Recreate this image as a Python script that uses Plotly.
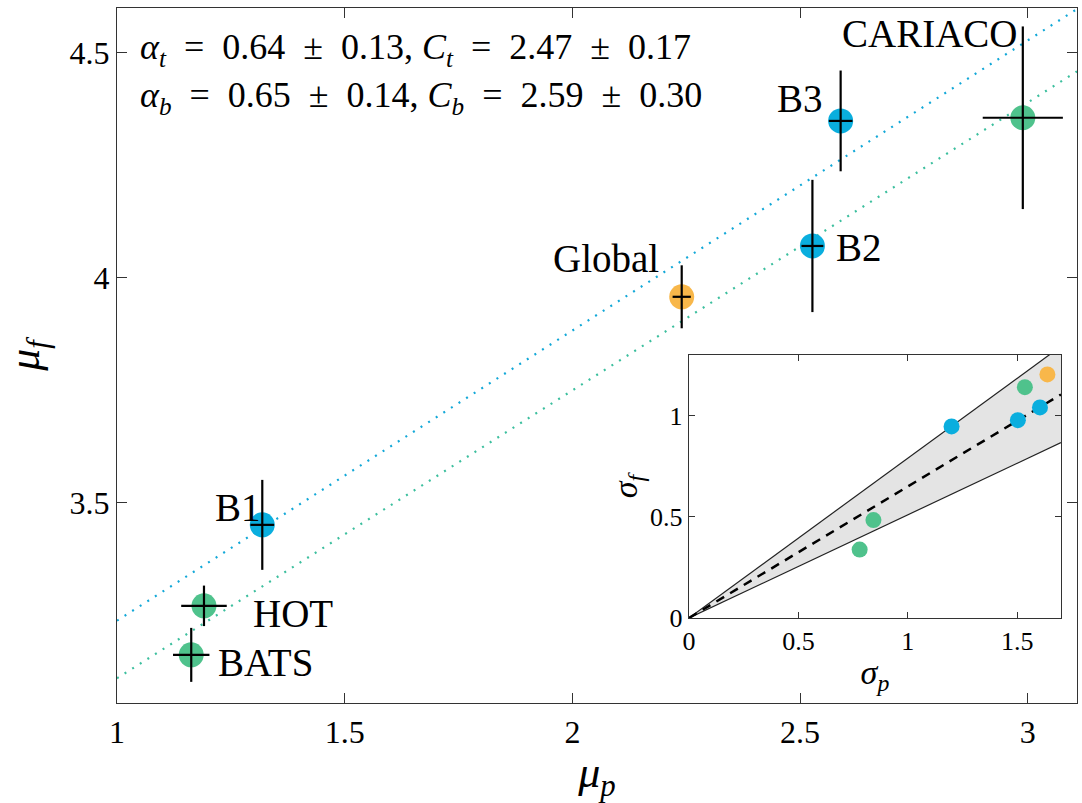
import plotly.graph_objects as go

# ---- main panel data ----
sites = ["B1", "HOT", "BATS", "Global", "B2", "B3", "CARIACO"]
mu_p = [1.319, 1.191, 1.163, 2.240, 2.527, 2.589, 2.989]
mu_f = [3.451, 3.271, 3.162, 3.958, 4.071, 4.349, 4.356]
err_p = [0.026, 0.05, 0.04, 0.02, 0.024, 0.026, 0.088]
err_f = [0.10, 0.045, 0.06, 0.07, 0.147, 0.112, 0.203]
groups = ["b", "g", "g", "o", "b", "b", "g"]

# fit lines (slope, intercept)
fit_slope = [0.645, 0.64]
fit_icept = [2.593, 2.47]

# ---- inset data ----
sig_p = [0.78, 0.843, 1.20, 1.503, 1.535, 1.604, 1.638]
sig_f = [0.338, 0.484, 0.947, 0.978, 1.141, 1.041, 1.204]
sig_groups = ["g", "g", "b", "b", "g", "b", "o"]
inset_slope = 0.65
inset_slope_err = 0.14

COL = {"b": "#0aaede", "g": "#4fc28c", "o": "#f8b74a"}
LINECOL = ["#12a8d8", "#3cbf9e"]
FONT = "Liberation Serif"

XR = [1.0, 3.108]
YR = [3.055, 4.6]

fig = go.Figure()

# dotted fit lines
for s, c, col in zip(fit_slope, fit_icept, LINECOL):
    xs = [XR[0], XR[1]]
    fig.add_trace(go.Scatter(x=xs, y=[s * v + c for v in xs], mode="lines",
                             line=dict(color=col, width=2.2, dash="2px,7px"),
                             hoverinfo="skip", showlegend=False))

# markers
fig.add_trace(go.Scatter(x=mu_p, y=mu_f, mode="markers",
                         marker=dict(size=25, color=[COL[g] for g in groups], line=dict(width=0)),
                         showlegend=False))
# error bars on top
fig.add_trace(go.Scatter(x=mu_p, y=mu_f, mode="markers",
                         marker=dict(size=1, color="rgba(0,0,0,0)"),
                         error_x=dict(type="data", array=err_p, color="black", thickness=2.2, width=0),
                         error_y=dict(type="data", array=err_f, color="black", thickness=2.2, width=0),
                         showlegend=False))

# inset band
x_end = 1.7
fig.add_trace(go.Scatter(x=[0, x_end, x_end, 0],
                         y=[0, x_end * (inset_slope + inset_slope_err), x_end * (inset_slope - inset_slope_err), 0],
                         fill="toself", fillcolor="#e4e4e4", mode="lines",
                         line=dict(color="rgba(0,0,0,0)", width=0),
                         xaxis="x2", yaxis="y2", showlegend=False, hoverinfo="skip"))
for sl in [inset_slope + inset_slope_err, inset_slope - inset_slope_err]:
    fig.add_trace(go.Scatter(x=[0, x_end], y=[0, sl * x_end], mode="lines",
                             line=dict(color="#222", width=1.2),
                             xaxis="x2", yaxis="y2", showlegend=False, hoverinfo="skip"))
fig.add_trace(go.Scatter(x=[0, x_end], y=[0, inset_slope * x_end], mode="lines",
                         line=dict(color="black", width=2.5, dash="9px,7px"),
                         xaxis="x2", yaxis="y2", showlegend=False, hoverinfo="skip"))
fig.add_trace(go.Scatter(x=sig_p, y=sig_f, mode="markers",
                         marker=dict(size=16, color=[COL[g] for g in sig_groups]),
                         xaxis="x2", yaxis="y2", showlegend=False))

# site labels
label_pos = {
    "CARIACO": (2.785, 4.544),
    "B3": (2.5, 4.399),
    "Global": (2.073, 4.043),
    "B2": (2.629, 4.067),
    "B1": (1.266, 3.49),
    "HOT": (1.387, 3.253),
    "BATS": (1.325, 3.144),
}
annotations = []
for name in sites:
    x, y = label_pos[name]
    annotations.append(dict(x=x, y=y, xref="x", yref="y", text=name, showarrow=False,
                            font=dict(family=FONT, size=39, color="black"),
                            xanchor="center", yanchor="middle"))

S = "\u2002"
line1 = f"<i>α</i><sub><i>t</i></sub>{S}={S}0.64{S}±{S}0.13, <i>C</i><sub><i>t</i></sub>{S}={S}2.47{S}±{S}0.17"
line2 = f"<i>α</i><sub><i>b</i></sub>{S}={S}0.65{S}±{S}0.14, <i>C</i><sub><i>b</i></sub>{S}={S}2.59{S}±{S}0.30"
annotations.append(dict(x=0.022, y=0.94, xref="paper", yref="paper", showarrow=False,
                        xanchor="left", yanchor="middle", text=line1,
                        font=dict(family=FONT, size=36, color="black")))
annotations.append(dict(x=0.022, y=0.871, xref="paper", yref="paper", showarrow=False,
                        xanchor="left", yanchor="middle", text=line2,
                        font=dict(family=FONT, size=36, color="black")))

axis_common = dict(showline=True, linecolor="#333", linewidth=1.3, mirror="allticks",
                   ticks="inside", tickcolor="#333", showgrid=False, zeroline=False,
                   automargin=False)
main_tick = dict(family=FONT, size=32, color="black")
inset_tick = dict(family=FONT, size=26, color="black")

fig.update_layout(
    width=1082, height=803,
    margin=dict(l=117, r=5, t=8, b=100),
    plot_bgcolor="white", paper_bgcolor="white",
    annotations=annotations,
    xaxis=dict(range=XR, tickvals=[1, 1.5, 2, 2.5, 3], ticktext=["1", "1.5", "2", "2.5", "3"],
               ticklen=10, tickfont=main_tick,
               title=dict(text="<i>μ</i><sub><i>p</i></sub>", standoff=8,
                          font=dict(family=FONT, size=44, color="black")),
               **axis_common),
    yaxis=dict(range=YR, tickvals=[3.5, 4, 4.5], ticktext=["3.5", "4", "4.5"],
               ticklen=10, tickfont=main_tick,
               title=dict(text="<i>μ</i><sub><i>f</i></sub>", standoff=16,
                          font=dict(family=FONT, size=44, color="black")),
               **axis_common),
    xaxis2=dict(domain=[0.5958, 0.9833], anchor="y2", range=[0, 1.7],
                tickvals=[0, 0.5, 1, 1.5], ticktext=["0", "0.5", "1", "1.5"], ticklen=6,
                tickfont=inset_tick,
                title=dict(text="<i>σ</i><sub><i>p</i></sub>", standoff=4,
                           font=dict(family=FONT, size=34, color="black")),
                **axis_common),
    yaxis2=dict(domain=[0.1223, 0.5007], anchor="x2", range=[0, 1.3],
                tickvals=[0, 0.5, 1], ticktext=["0", "0.5", "1"], ticklen=6,
                tickfont=inset_tick,
                title=dict(text="<i>σ</i><sub><i>f</i></sub>", standoff=2,
                           font=dict(family=FONT, size=34, color="black")),
                **axis_common),
)

fig.write_html("out.html", config={"displayModeBar": False},
               post_script="document.body.style.margin='0';")
